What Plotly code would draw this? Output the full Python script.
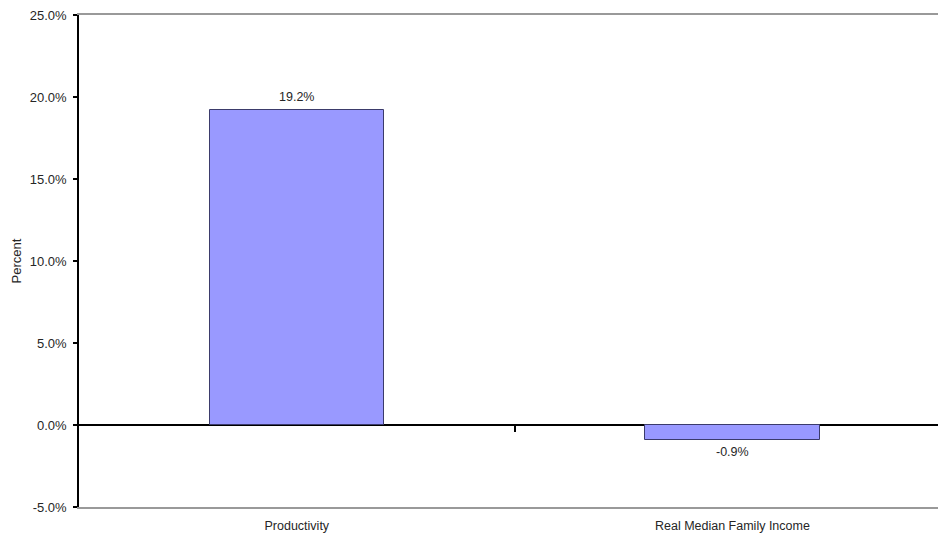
import plotly.graph_objects as go

categories = ["Productivity", "Real Median Family Income"]
values = [19.2, -0.9]
y_ticks = [-5, 0, 5, 10, 15, 20, 25]
y_ticktext = ["-5.0%", "0.0%", "5.0%", "10.0%", "15.0%", "20.0%", "25.0%"]

FONT = "Liberation Sans, Arial, sans-serif"
TXT = "#262626"

fig = go.Figure()
fig.add_trace(go.Bar(
    x=categories, y=values, width=0.4,
    marker=dict(color="#9999FF", line=dict(color="#3b3b6b", width=1)),
    showlegend=False,
))
# bar value labels
for c, v in zip(categories, values):
    fig.add_annotation(
        x=c, y=v, text=f"{v:.1f}%", showarrow=False,
        yshift=13 if v >= 0 else -12,
        font=dict(family=FONT, size=12.5, color=TXT),
    )
# dummy trace on second x axis to hold the between-category tick
fig.add_trace(go.Scatter(x=[0.5], y=[None], xaxis="x2", showlegend=False, hoverinfo="skip"))

fig.update_layout(
    width=938, height=536,
    margin=dict(l=79, r=0, t=15, b=29),
    paper_bgcolor="white", plot_bgcolor="white",
    font=dict(family=FONT, size=13, color=TXT),
    bargap=0,
    xaxis=dict(
        type="category", range=[-0.5, 1.472],
        showline=True, linecolor="#999999", linewidth=1.5, mirror=True,
        ticks="", showgrid=False, zeroline=False, ticklabelstandoff=6,
        tickfont=dict(family=FONT, size=12.5, color=TXT),
    ),
    xaxis2=dict(
        overlaying="x", anchor="free", position=1/6, range=[-0.5, 1.472],
        tickvals=[0.5], showticklabels=False, ticks="outside", ticklen=6,
        tickcolor="black", tickwidth=2, showline=False, showgrid=False, zeroline=False,
    ),
    yaxis=dict(
        range=[-5, 25], tickvals=y_ticks, ticktext=y_ticktext,
        showline=True, linecolor="black", linewidth=1.5,
        ticks="outside", ticklen=4, tickcolor="black", tickwidth=1.5,
        showgrid=False, zeroline=True, zerolinecolor="black", zerolinewidth=1.5,
        ticklabelstandoff=4,
        tickfont=dict(family=FONT, size=13, color=TXT),
        title=dict(text="Percent", font=dict(family=FONT, size=13, color=TXT), standoff=5),
    ),
)

fig.write_html("out.html")
